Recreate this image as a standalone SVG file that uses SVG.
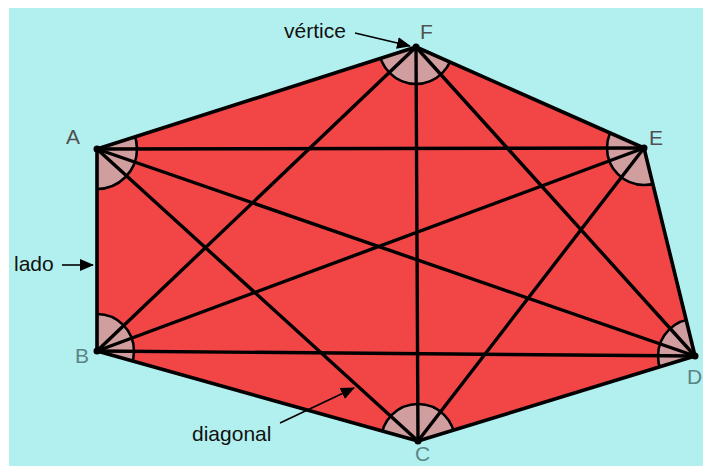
<svg xmlns="http://www.w3.org/2000/svg" width="703" height="466" viewBox="0 0 703 466">
<style>
.edge{fill:none;stroke:#000;stroke-width:3.6;stroke-linejoin:round}
.diag{stroke:#000;stroke-width:3.4;stroke-linecap:round}
.sector{fill:#d09e9e;stroke:#000;stroke-width:2.6}
.dot{fill:#000}
.vl{font-family:"Liberation Sans",Arial,sans-serif;font-size:21px;fill:#505050}
.vl2{font-family:"Liberation Sans",Arial,sans-serif;font-size:21px;fill:#5a8585}
.ann{font-family:"Liberation Sans",Arial,sans-serif;font-size:21px;fill:#111}
.arr{stroke:#000;stroke-width:1.6;fill:none}
</style>
<defs>
<marker id="ah" markerUnits="userSpaceOnUse" markerWidth="14" markerHeight="12" viewBox="0 0 14 12" refX="13" refY="6" orient="auto">
<path d="M0,0 L14,6 L0,12 z" fill="#000"/>
</marker>
<clipPath id="hex">
<polygon points="416,47 644,148 695,356 418,441 97,351 97,149"/>
</clipPath>
</defs>
<rect x="0" y="0" width="703" height="466" fill="#fff"/>
<rect x="9" y="8" width="694" height="458" fill="#b2f0ef"/>
<polygon points="416,47 644,148 695,356 418,441 97,351 97,149" fill="#f24646"/>
<g clip-path="url(#hex)">
<circle class="sector" cx="416" cy="47" r="37"/>
<circle class="sector" cx="644" cy="148" r="37"/>
<circle class="sector" cx="695" cy="356" r="37"/>
<circle class="sector" cx="418" cy="441" r="37"/>
<circle class="sector" cx="97" cy="351" r="37"/>
<circle class="sector" cx="97" cy="149" r="40"/>
</g>
<g id="connectors">
<line class="diag" x1="97" y1="149" x2="644" y2="148"/>
<line class="diag" x1="97" y1="149" x2="695" y2="356"/>
<line class="diag" x1="97" y1="149" x2="418" y2="441"/>
<line class="diag" x1="97" y1="351" x2="416" y2="47"/>
<line class="diag" x1="97" y1="351" x2="644" y2="148"/>
<line class="diag" x1="97" y1="351" x2="695" y2="356"/>
<line class="diag" x1="418" y1="441" x2="416" y2="47"/>
<line class="diag" x1="418" y1="441" x2="644" y2="148"/>
<line class="diag" x1="695" y1="356" x2="416" y2="47"/>
<polygon class="edge" points="416,47 644,148 695,356 418,441 97,351 97,149"/>
</g>
<g id="F"><circle class="dot" cx="416" cy="47" r="3.5"/><text class="vl" x="420" y="39">F</text></g>
<g id="E"><circle class="dot" cx="644" cy="148" r="3.5"/><text class="vl" x="649" y="145">E</text></g>
<g id="D"><circle class="dot" cx="695" cy="356" r="3.5"/><text class="vl2" x="687" y="384">D</text></g>
<g id="C"><circle class="dot" cx="418" cy="441" r="3.5"/><text class="vl2" x="415" y="461">C</text></g>
<g id="B"><circle class="dot" cx="97" cy="351" r="3.5"/><text class="vl2" x="75" y="363">B</text></g>
<g id="A"><circle class="dot" cx="97" cy="149" r="3.5"/><text class="vl" x="66" y="144">A</text></g>
<g id="annotations">
<text class="ann" x="284" y="38">vértice</text>
<line class="arr" x1="355" y1="33" x2="410" y2="46" marker-end="url(#ah)"/>
<text class="ann" x="14" y="271">lado</text>
<line class="arr" x1="62" y1="265" x2="93" y2="265" marker-end="url(#ah)"/>
<text class="ann" x="192" y="441">diagonal</text>
<line class="arr" x1="280" y1="423" x2="354" y2="388" marker-end="url(#ah)"/>
</g>
</svg>
